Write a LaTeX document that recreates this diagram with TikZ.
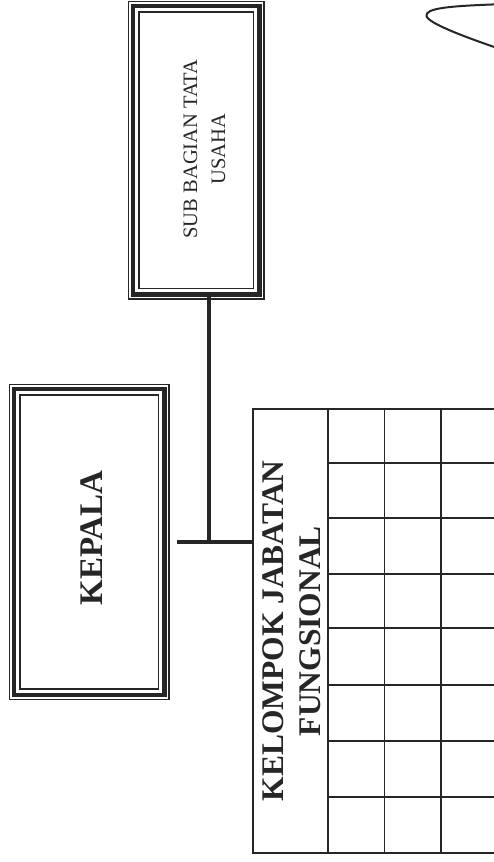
\documentclass[tikz,border=0pt]{standalone}
\usepackage{fontspec}
\setmainfont{Liberation Serif}
\usepackage{graphicx}
\usetikzlibrary{calc}
\definecolor{ink}{gray}{0.15}
\begin{document}
\begin{tikzpicture}[x=1pt,y=1pt,
  thickbox/.style={draw=ink, line width=4.5pt, inner sep=0pt, outer sep=0pt},
  thinline/.style={draw=ink, line width=1.4pt},
  conn/.style={draw=ink, line width=4pt},
  gridline/.style={draw=ink, line width=1.6pt},
  boldtitle/.style={text=ink, font=\bfseries},
  plaintitle/.style={text=ink}]
\useasboundingbox (0,0) rectangle (494,862);
\clip (0,0) rectangle (494,862);
\fill[white] (0,0) rectangle (494,862);
% KEPALA box
\node[thickbox, minimum width=150.5pt, minimum height=306pt] (kepala) at (89.25,320) {};
\node[boldtitle, rotate=90, inner sep=0pt, font=\bfseries\fontsize{33}{40}\selectfont] (kepalatext) at (91.5,324) {KEPALA};
% SUB BAGIAN TATA USAHA box
\node[thickbox, minimum width=126.5pt, minimum height=288.5pt] (sub) at (196.25,711.75) {};
\node[plaintitle, rotate=90, inner sep=0pt, align=center, font=\fontsize{20.5}{28}\selectfont] (subtext) at (204.5,713) {SUB BAGIAN TATA\\USAHA};
% triple borders
\foreach \n in {kepala,sub}{
  \draw[thinline] ([shift={(-4.5pt,4.5pt)}]\n.north west) rectangle ([shift={(4.5pt,-4.5pt)}]\n.south east);
  \draw[thinline] ([shift={(6pt,-6pt)}]\n.north west) rectangle ([shift={(-6pt,6pt)}]\n.south east);
}
% table
\node[draw=ink, line width=1.6pt, inner sep=0pt, outer sep=0pt, minimum width=347pt, minimum height=444pt] (table) at (426.5,231) {};
\foreach \xx in {328,384.5,441,497.5}{
  \draw[gridline] (\xx,453) -- (\xx,9);
}
\foreach \yy in {463,518,574,628,685,741,797}{
  \draw[gridline] (328,862-\yy) -- (600,862-\yy);
}
\node[boldtitle, rotate=90, inner sep=0pt, align=center, font=\bfseries\fontsize{31.5}{37}\selectfont] (kjf) at (291.5,231) {KELOMPOK JABATAN\\FUNGSIONAL};
% connectors
\coordinate (j) at (209,320);
\draw[conn] (sub.south -| j) -- (j);
\draw[conn] ([xshift=12.5pt]kepala.east) -- (kepala.east -| table.west);
% partial oval at top right
\draw[ink, line width=2pt, line cap=round] (500,857.8) .. controls (450,856) and (425,854) .. (426.5,846) .. controls (428,839) and (462,826) .. (500,813);
\end{tikzpicture}
\end{document}
